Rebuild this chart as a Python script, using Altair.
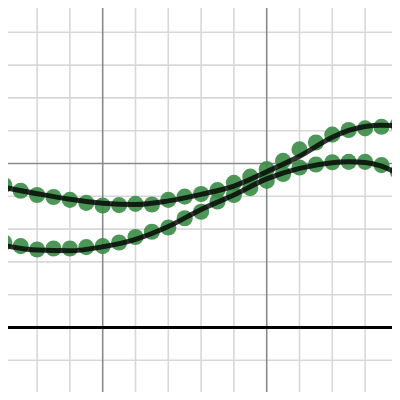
import altair as alt
import pandas as pd

# ---- data ----
point_x = [2.0, 2.5, 3.0, 3.5, 4.0, 4.5, 5.0, 5.5, 6.0, 6.5, 7.0, 7.5, 8.0,
           8.5, 9.0, 9.5, 10.0, 10.5, 11.0, 11.5, 12.0, 12.5, 13.0, 13.5, 14.0]
points_a = [4.34, 4.17, 4.04, 3.98, 3.89, 3.80, 3.72, 3.73, 3.77, 3.75, 3.89, 3.99, 4.07,
            4.19, 4.41, 4.60, 4.83, 5.08, 5.43, 5.64, 5.88, 6.02, 6.07, 6.12, 6.18]
points_b = [2.59, 2.48, 2.38, 2.41, 2.41, 2.45, 2.48, 2.59, 2.76, 2.92, 3.05, 3.33, 3.53,
            3.84, 4.04, 4.25, 4.47, 4.68, 4.88, 4.97, 5.04, 5.05, 5.05, 4.95, 4.75]

curve_x = [1.8, 3.0, 4.0, 5.0, 6.0, 7.0, 8.0, 9.0, 10.0, 11.0, 12.0, 12.5, 13.0, 13.5, 14.0, 14.2]
curve_a = [4.31, 4.08, 3.91, 3.79, 3.75, 3.86, 4.06, 4.31, 4.75, 5.22, 5.80, 6.01, 6.13, 6.17, 6.15, 6.13]
curve_b = [2.54, 2.36, 2.34, 2.46, 2.69, 3.08, 3.60, 4.04, 4.53, 4.85, 5.02, 5.05, 5.03, 4.92, 4.70, 4.62]

minor_x = [2, 3, 4, 6, 7, 8, 9, 11, 12, 13, 14]
minor_y = [-2, -1, 1, 2, 3, 4, 6, 7, 8, 9]
major_x = [5, 10]
major_y = [5]
axis_y = [0]

X_DOMAIN = [2.113, 13.820]
Y_DOMAIN = [-1.966, 9.741]

# ---- tables ----
pts = pd.DataFrame({
    "x": point_x * 2,
    "y": points_a + points_b,
    "series": ["A"] * len(point_x) + ["B"] * len(point_x),
})
crv = pd.DataFrame({
    "x": curve_x * 2,
    "y": curve_a + curve_b,
    "series": ["A"] * len(curve_x) + ["B"] * len(curve_x),
})

xs = alt.Scale(domain=X_DOMAIN, nice=False, zero=False)
ys = alt.Scale(domain=Y_DOMAIN, nice=False, zero=False)
xe = lambda f="x": alt.X(f"{f}:Q", scale=xs, axis=None)
ye = lambda f="y": alt.Y(f"{f}:Q", scale=ys, axis=None)

minor_v = alt.Chart(pd.DataFrame({"x": minor_x})).mark_rule(
    color="#d8d8d8", strokeWidth=1.6, clip=True).encode(x=xe())
minor_h = alt.Chart(pd.DataFrame({"y": minor_y})).mark_rule(
    color="#d8d8d8", strokeWidth=1.6, clip=True).encode(y=ye())
major_v = alt.Chart(pd.DataFrame({"x": major_x})).mark_rule(
    color="#8a8a8a", strokeWidth=1.6, clip=True).encode(x=xe())
major_h = alt.Chart(pd.DataFrame({"y": major_y})).mark_rule(
    color="#8a8a8a", strokeWidth=1.6, clip=True).encode(y=ye())
axis_h = alt.Chart(pd.DataFrame({"y": axis_y})).mark_rule(
    color="#000000", strokeWidth=3, clip=True).encode(y=ye())

dots = alt.Chart(pts).mark_circle(
    size=260, color="#388c46", opacity=0.9, clip=True
).encode(x=xe(), y=ye(), detail="series:N")

lines = alt.Chart(crv).mark_line(
    color="#000000", opacity=0.8, strokeWidth=5, interpolate="monotone",
    strokeCap="round", clip=True
).encode(x=xe(), y=ye(), detail="series:N")

chart = alt.layer(
    minor_v, minor_h, major_v, major_h, axis_h, dots, lines
).properties(
    width=384, height=384, padding=0,
    autosize=alt.AutoSizeParams(type="none"),
).configure_view(stroke=None)

chart.save("out.html", embed_options={"renderer": "svg", "actions": False})
